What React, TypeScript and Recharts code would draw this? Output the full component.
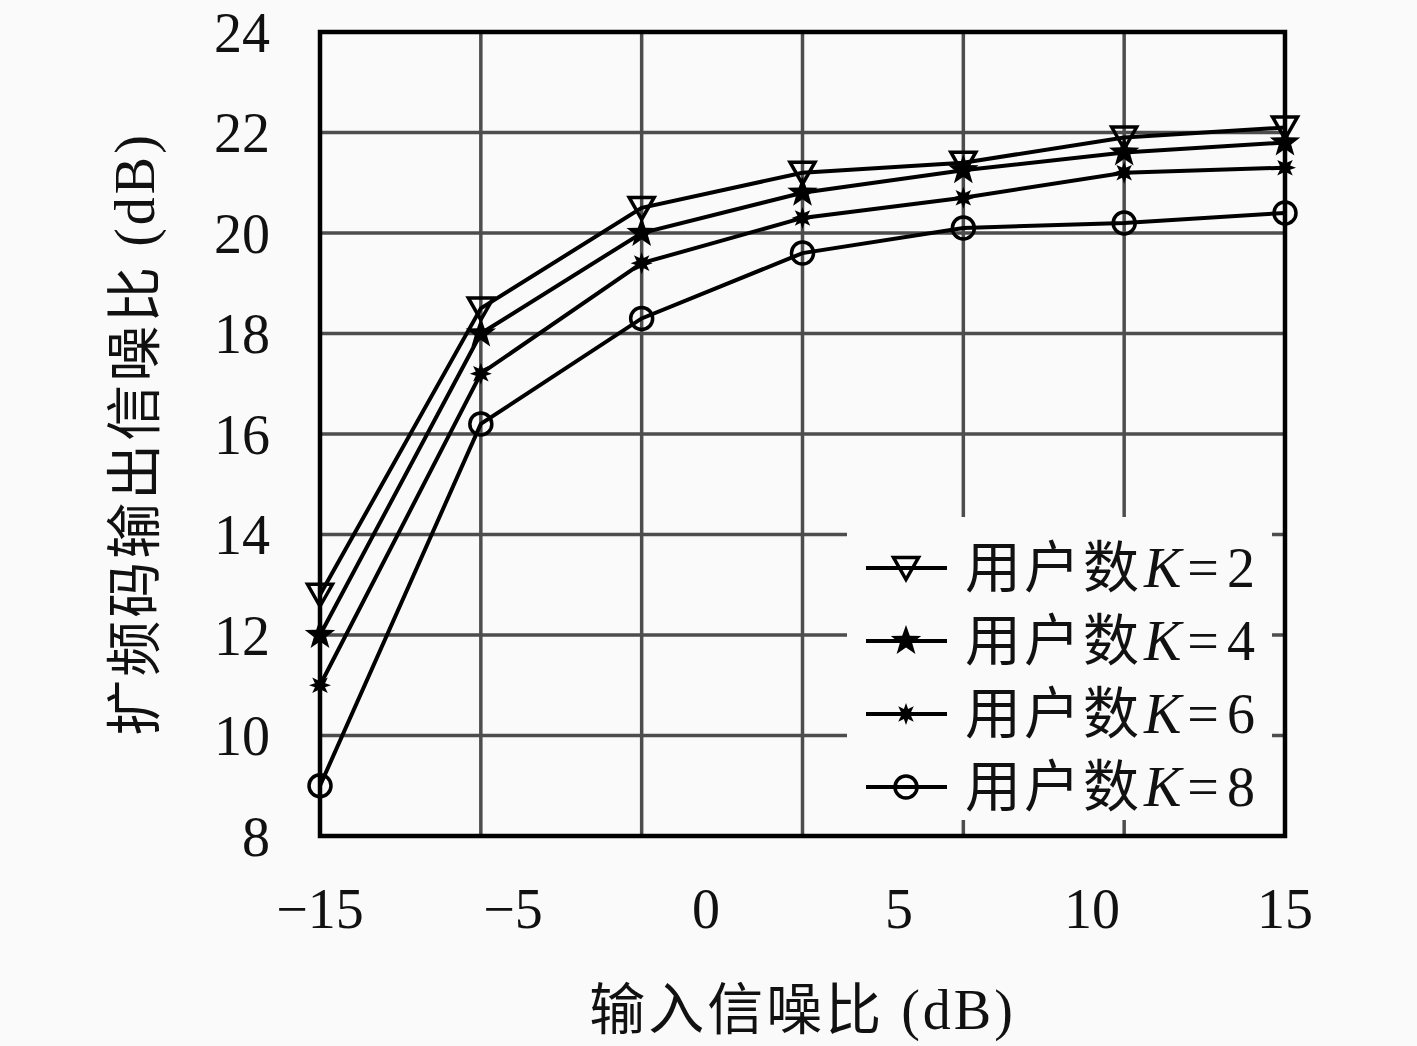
import React from 'react';
import {
  LineChart,
  Line,
  XAxis,
  YAxis,
  CartesianGrid,
  ReferenceArea,
  Legend,
} from 'recharts';

const snrIn = [-15, -10, -5, 0, 5, 10, 15];
const k2 = [12.8, 18.5, 20.5, 21.2, 21.4, 21.9, 22.1];
const k4 = [12.0, 18.0, 20.0, 20.8, 21.25, 21.6, 21.8];
const k6 = [11.0, 17.2, 19.4, 20.3, 20.7, 21.2, 21.3];
const k8 = [9.0, 16.2, 18.3, 19.6, 20.1, 20.2, 20.4];

// In the original figure the printed x labels do not sit on the grid lines,
// they are spread evenly over the axis instead.
const xTickPos = [-15, -9, -3, 3, 9, 15];
const xTickLabels = ['−15', '−5', '0', '5', '10', '15'];
const yTicks = [8, 10, 12, 14, 16, 18, 20, 22, 24];

const series = [
  { key: 'k2', users: '2', marker: 'triangle' },
  { key: 'k4', users: '4', marker: 'star' },
  { key: 'k6', users: '6', marker: 'asterisk' },
  { key: 'k8', users: '8', marker: 'circle' },
];

const data = snrIn.map((x, i) => ({ x, k2: k2[i], k4: k4[i], k6: k6[i], k8: k8[i] }));

const BG = '#fafafa';
const FONT = "'Liberation Serif', 'Noto Sans CJK SC', serif";
const tickStyle = { fontSize: 56, fill: '#111', fontFamily: FONT };

function starPoints(cx: number, cy: number, n: number, outer: number, inner: number) {
  const pts: string[] = [];
  for (let i = 0; i < n * 2; i++) {
    const r = i % 2 === 0 ? outer : inner;
    const a = -Math.PI / 2 + (i * Math.PI) / n;
    pts.push(`${cx + r * Math.cos(a)},${cy + r * Math.sin(a)}`);
  }
  return pts.join(' ');
}

function Marker({ kind, cx, cy }: { kind: string; cx: number; cy: number }) {
  if (cx == null || cy == null) return null;
  switch (kind) {
    case 'triangle':
      return (
        <polygon
          points={`${cx - 12.5},${cy - 10.5} ${cx + 12.5},${cy - 10.5} ${cx},${cy + 11.5}`}
          fill="none"
          stroke="#000"
          strokeWidth={3.5}
        />
      );
    case 'star':
      return <polygon points={starPoints(cx, cy, 5, 16, 6.5)} fill="#000" />;
    case 'asterisk':
      return <polygon points={starPoints(cx, cy, 8, 11, 5.5)} fill="#000" />;
    default:
      return <circle cx={cx} cy={cy} r={11} fill="none" stroke="#000" strokeWidth={3.5} />;
  }
}

function LegendBox() {
  return (
    <div style={{ background: BG, width: 425, height: 303, boxSizing: 'border-box', paddingTop: 14 }}>
      {series.map(s => (
        <div key={s.key} style={{ display: 'flex', alignItems: 'center', height: 73 }}>
          <svg width={118} height={40} style={{ flex: 'none' }}>
            <line x1={19} x2={100} y1={20} y2={20} stroke="#000" strokeWidth={4} />
            <Marker kind={s.marker} cx={59} cy={20} />
          </svg>
          <span
            style={{
              fontSize: 56,
              fontFamily: FONT,
              color: '#111',
              lineHeight: 1,
              whiteSpace: 'nowrap',
              letterSpacing: 3,
            }}
          >
            用户数<i style={{ marginLeft: 2, letterSpacing: 0 }}>K</i>
            <span style={{ margin: '0 5px 0 6px' }}>=</span>
            {s.users}
          </span>
        </div>
      ))}
    </div>
  );
}

export default function App() {
  return (
    <div style={{ position: 'absolute', left: 0, top: 0, width: 1417, height: 1046, background: BG }}>
      <LineChart width={1417} height={1046} data={data} margin={{ top: 32, right: 132, bottom: 0, left: 0 }}>
        <CartesianGrid verticalValues={snrIn} stroke="#4d4d4d" strokeWidth={3.5} />
        <XAxis
          dataKey="x"
          type="number"
          domain={[-15, 15]}
          ticks={xTickPos}
          tickFormatter={(v: number) => xTickLabels[xTickPos.indexOf(v)] ?? ''}
          height={210}
          tickSize={0}
          tickMargin={52}
          axisLine={false}
          tick={tickStyle}
          interval={0}
          label={{
            content: (p: any) => {
              const vb = p.viewBox ?? { x: 320, y: 836, width: 965 };
              return (
                <text
                  x={vb.x + vb.width / 2}
                  y={vb.y + 174}
                  textAnchor="middle"
                  dominantBaseline="central"
                  style={{ fontSize: 56, fontFamily: FONT, fill: '#111', letterSpacing: 3 }}
                >
                  输入信噪比 (dB)
                </text>
              );
            },
          }}
        />
        <YAxis
          type="number"
          domain={[8, 24]}
          ticks={yTicks}
          width={320}
          tickSize={0}
          tickMargin={50}
          axisLine={false}
          tick={tickStyle}
          interval={0}
          label={{
            content: (p: any) => {
              const vb = p.viewBox ?? { x: 0, y: 32, height: 804 };
              const cx = vb.x + 135;
              const cy = vb.y + vb.height / 2;
              return (
                <text
                  x={cx}
                  y={cy}
                  transform={`rotate(-90, ${cx}, ${cy})`}
                  textAnchor="middle"
                  dominantBaseline="central"
                  style={{ fontSize: 56, fontFamily: FONT, fill: '#111', letterSpacing: 3 }}
                >
                  扩频码输出信噪比 (dB)
                </text>
              );
            },
          }}
        />
        {series.map(s => (
          <Line
            key={s.key}
            dataKey={s.key}
            type="linear"
            stroke="#000"
            strokeWidth={4}
            isAnimationActive={false}
            activeDot={false}
            dot={(p: any) => <Marker key={`${s.key}-${p.index}`} kind={s.marker} cx={p.cx} cy={p.cy} />}
          />
        ))}
        <ReferenceArea x1={-15} x2={15} y1={8} y2={24} fill="none" stroke="#000" strokeWidth={4.5} ifOverflow="visible" />
        <Legend
          layout="vertical"
          align="center"
          verticalAlign="middle"
          width={425}
          height={303}
          content={() => <LegendBox />}
          wrapperStyle={{ left: 847, top: 517, width: 425, height: 303 }}
        />
      </LineChart>
    </div>
  );
}
